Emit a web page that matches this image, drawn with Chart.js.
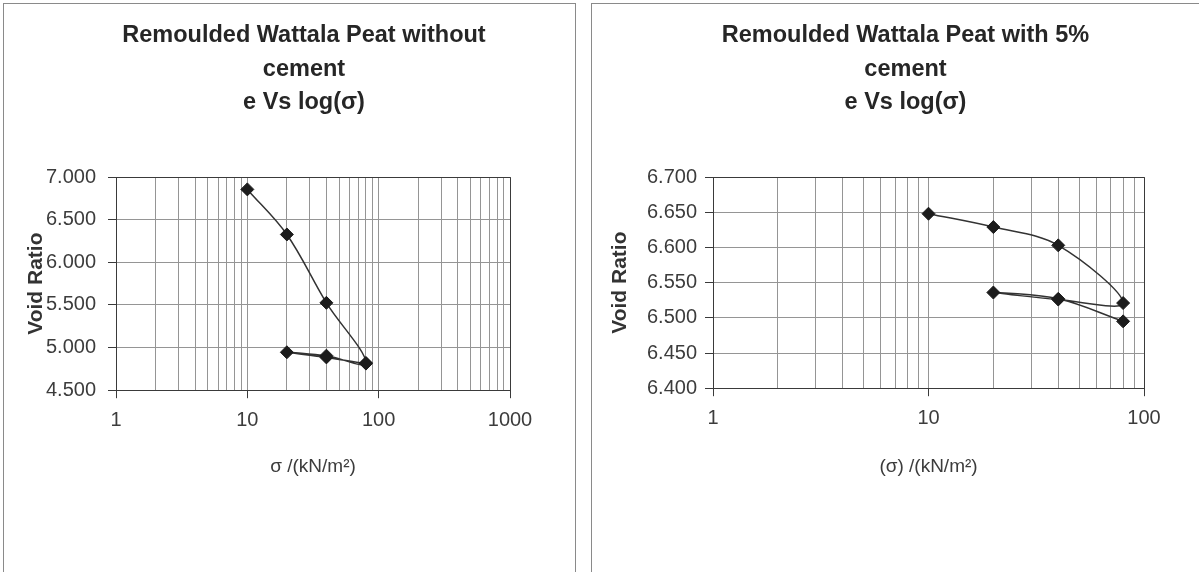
<!DOCTYPE html>
<html>
<head>
<meta charset="utf-8">
<script src="https://cdn.jsdelivr.net/npm/chart.js@4.4.1/dist/chart.umd.min.js"></script>
<style>
  html, body { margin: 0; padding: 0; background: #fff; overflow: hidden; }
  body { width: 1199px; height: 572px; position: relative; }
  .paneel { position: absolute; border: 1px solid #8a8a8a; }
  canvas { position: absolute; }
</style>
</head>
<body>
<div class="paneel" style="left:3px; top:3px; width:571px; height:580px;"></div>
<div class="paneel" style="left:591px; top:3px; width:700px; height:580px;"></div>
<canvas id="links" width="571" height="566" style="left:4px; top:4px;"></canvas>
<canvas id="rechts" width="606" height="566" style="left:593px; top:4px;"></canvas>
<script>
"use strict";
// zonder cement
const sigmaLinks = [10, 20, 40, 80, 40, 20, 40, 80];
const eLinks = [6.856, 6.327, 5.525, 4.820, 4.905, 4.945, 4.885, 4.812];
// met 5% cement
const sigmaRechts = [10, 20, 40, 80, 40, 20, 40, 80];
const eRechts = [6.648, 6.629, 6.603, 6.521, 6.526, 6.536, 6.527, 6.495];

const decadesLinks = [1, 10, 100, 1000];
const decadesRechts = [1, 10, 100];
const yTicksLinks = [4.5, 5.0, 5.5, 6.0, 6.5, 7.0];
const yTicksRechts = [6.40, 6.45, 6.50, 6.55, 6.60, 6.65, 6.70];

const titelLinks = ["Remoulded Wattala Peat without", "cement", "e Vs log(\u03c3)"];
const titelRechts = ["Remoulded Wattala Peat with 5%", "cement", "e Vs log(\u03c3)"];
const xTitelLinks = "\u03c3 /(kN/m\u00b2)";
const xTitelRechts = "(\u03c3) /(kN/m\u00b2)";
const yTitel = "Void Ratio";

const lijnKleur = '#333';
const rasterKleur = '#959595';
const kaderKleur = '#3a3a3a';
const tekstKleur = '#3c3c3c';

// titel verschuiven (Excel centreert niet op de plot)
const titelVerschuiving = {
    id: 'titelVerschuiving',
    afterLayout(chart, args, opts) {
        const t = chart.titleBlock;
        if (t && opts.dx) {
            t.left += opts.dx;
            t.right += opts.dx;
        }
    }
};

// alle rasterlijnen 1..9 per decade
function logRaster(decades) {
    const waarden = [];
    for (let i = 0; i < decades.length - 1; i++) {
        for (let k = 1; k < 10; k++) {
            waarden.push(decades[i] * k);
        }
    }
    waarden.push(decades[decades.length - 1]);
    return waarden;
}

function maakGrafiek(id, sigma, e, decades, yTicks, titel, xTitel, instel) {
    const punten = sigma.map((s, i) => ({x: s, y: e[i]}));
    const raster = logRaster(decades);
    const xMin = decades[0];
    const xMax = decades[decades.length - 1];
    const yMin = yTicks[0];
    const yMax = yTicks[yTicks.length - 1];

    return new Chart(document.getElementById(id), {
        type: 'scatter',
        data: {
            datasets: [{
                data: punten,
                showLine: true,
                borderColor: lijnKleur,
                borderWidth: 1.5,
                tension: 0.35,
                pointStyle: 'rectRot',
                pointRadius: 6.5,
                pointBackgroundColor: '#1c1c1c',
                pointBorderColor: '#1c1c1c',
                pointBorderWidth: 1
            }]
        },
        plugins: [titelVerschuiving],
        options: {
            responsive: false,
            animation: false,
            devicePixelRatio: 1,
            layout: {padding: {left: 0, right: instel.rechts, top: 0, bottom: 0}},
            plugins: {
                legend: {display: false},
                tooltip: {enabled: false},
                titelVerschuiving: {dx: instel.dx},
                title: {
                    display: true,
                    text: titel,
                    color: '#262626',
                    font: {family: 'Liberation Sans', size: 23.5, weight: 'bold', lineHeight: 1.42},
                    padding: {top: 15, bottom: 58}
                }
            },
            scales: {
                x: {
                    type: 'logarithmic',
                    min: xMin,
                    max: xMax,
                    afterBuildTicks: (scale) => {
                        scale.ticks = raster.map(v => ({value: v}));
                    },
                    ticks: {
                        autoSkip: false,
                        maxRotation: 0,
                        padding: 10,
                        color: tekstKleur,
                        font: {family: 'Liberation Sans', size: 20},
                        callback: (v) => decades.includes(v) ? String(v) : ''
                    },
                    grid: {
                        color: (c) => (c.tick && c.tick.value === xMax) ? kaderKleur : rasterKleur,
                        tickColor: (c) => (c.tick && decades.includes(c.tick.value)) ? kaderKleur : 'rgba(0,0,0,0)',
                        tickLength: 8
                    },
                    border: {color: kaderKleur, width: 1},
                    title: {
                        display: true,
                        text: xTitel,
                        color: tekstKleur,
                        font: {family: 'Liberation Sans', size: 19},
                        padding: {top: instel.xTitelTop, bottom: 92}
                    }
                },
                y: {
                    min: yMin,
                    max: yMax,
                    afterBuildTicks: (scale) => {
                        scale.ticks = yTicks.map(v => ({value: v}));
                    },
                    afterFit: (scale) => {
                        scale.width = instel.yBreedte;
                    },
                    ticks: {
                        padding: instel.yPad,
                        color: tekstKleur,
                        font: {family: 'Liberation Sans', size: 20},
                        callback: (v) => Number(v).toFixed(3)
                    },
                    grid: {
                        color: (c) => (c.tick && Math.abs(c.tick.value - yMax) < 1e-9) ? kaderKleur : rasterKleur,
                        tickColor: kaderKleur,
                        tickLength: 8
                    },
                    border: {color: kaderKleur, width: 1},
                    title: {
                        display: true,
                        text: yTitel,
                        color: '#333',
                        font: {family: 'Liberation Sans', size: 21, weight: 'bold'},
                        padding: {top: instel.yTitelPad, bottom: 0}
                    }
                }
            }
        }
    });
}

maakGrafiek('links', sigmaLinks, eLinks, decadesLinks, yTicksLinks, titelLinks, xTitelLinks,
    {rechts: 65, dx: 47, yBreedte: 112, yPad: 12, yTitelPad: 20, xTitelTop: 13});
maakGrafiek('rechts', sigmaRechts, eRechts, decadesRechts, yTicksRechts, titelRechts, xTitelRechts,
    {rechts: 55, dx: 37, yBreedte: 120, yPad: 8, yTitelPad: 15, xTitelTop: 15});
</script>
</body>
</html>
